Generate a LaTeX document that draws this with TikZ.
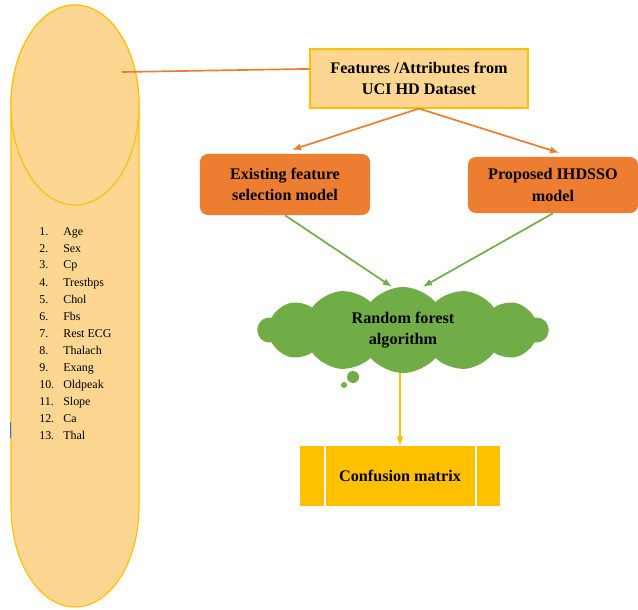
\documentclass[tikz,border=0pt]{standalone}
\usepackage{fontspec}
\setmainfont{Liberation Serif}
\usetikzlibrary{shapes.symbols}
\definecolor{capfill}{RGB}{253,214,145}
\definecolor{gold}{RGB}{255,192,0}
\definecolor{orangeac}{RGB}{237,125,49}
\definecolor{greenac}{RGB}{112,173,71}
\definecolor{markblue}{RGB}{60,100,235}
\tikzset{
  boldtext/.style={align=center, font=\bfseries\fontsize{11.5}{15}\selectfont},
  featbox/.style={boldtext, draw=gold, line width=0.8pt, fill=capfill,
    minimum width=5.45cm, minimum height=1.475cm},
  modelbox/.style={boldtext, fill=orangeac, rounded corners=0.2cm,
    minimum width=4.25cm},
  item/.style={anchor=base west, inner sep=0pt, font=\fontsize{8.5}{10}\selectfont},
  link/.style={line width=1.2pt}
}
\begin{document}
\begin{tikzpicture}[>=latex, x=0.025cm, y=-0.025cm]
        \useasboundingbox (0,0) rectangle (638,610);
        % attribute column
        \draw [draw=gold, fill=capfill, line width=0.8pt] (11,105) -- (11,507)
            arc[start angle=180, end angle=0, x radius=64, y radius=100] -- (139,105)
            arc[start angle=360, end angle=180, x radius=64, y radius=100] -- cycle;
        \draw [draw=gold, fill=capfill, line width=0.8pt] (75,105) ellipse[x radius=64, y radius=100];
        \draw [markblue, line width=0.04cm] (10.5,422) -- (10.5,438);
        \foreach \n/\t in {1/Age, 2/Sex, 3/Cp, 4/Trestbps, 5/Chol, 6/Fbs, 7/Rest ECG,
            8/Thalach, 9/Exang, 10/Oldpeak, 11/Slope, 12/Ca, 13/Thal}{
            \node [item] (num\n) at (39, 218+17*\n) {\n.};
            \node [item] (attr\n) at (63, 218+17*\n) {\t};
        }
        \coordinate (ellc) at (122,72);
        % flow
        \node [featbox] (feat) at (419,78.5) {Features /Attributes from\\UCI HD Dataset};
        \node [modelbox, minimum height=1.525cm] (exist) at (285,184.5) {Existing feature\\selection model};
        \node [modelbox, minimum height=1.4cm] (prop) at (553,185) {Proposed IHDSSO\\model};
        \node [cloud, boldtext, fill=greenac, cloud puffs=14, cloud puff arc=100, aspect=3.4,
            inner sep=0pt, minimum width=7.25cm, minimum height=2.15cm] (rf) at (403,330) {Random forest\\algorithm};
        \fill [greenac] (353,377) circle[radius=6];
        \fill [greenac] (344,385) circle[radius=3];
        \node [boldtext, fill=gold, minimum width=5cm, minimum height=1.5cm] (conf) at (400,476) {Confusion matrix};
        \draw [white, line width=1.5pt] (conf.north west) ++(25,0) -- ++(0,60);
        \draw [white, line width=1.5pt] (conf.north east) ++(-24,0) -- ++(0,60);
        \draw [link, orangeac] (ellc) -- ([yshift=0.24cm]feat.west);
        \draw [link, orangeac, ->] (feat.south) -- ([xshift=0.18cm,yshift=0.1cm]exist.north);
        \draw [link, orangeac, ->] (feat.south) -- ([xshift=0.15cm,yshift=0.1cm]prop.north);
        \draw [link, greenac, ->] (exist.south) -- ([xshift=-0.28cm]rf.north);
        \draw [link, greenac, ->] (prop.south) -- ([xshift=0.5cm]rf.north);
        \draw [link, gold, ->] (rf.south -| conf.north) -- (conf.north);
    \end{tikzpicture}
\end{document}
